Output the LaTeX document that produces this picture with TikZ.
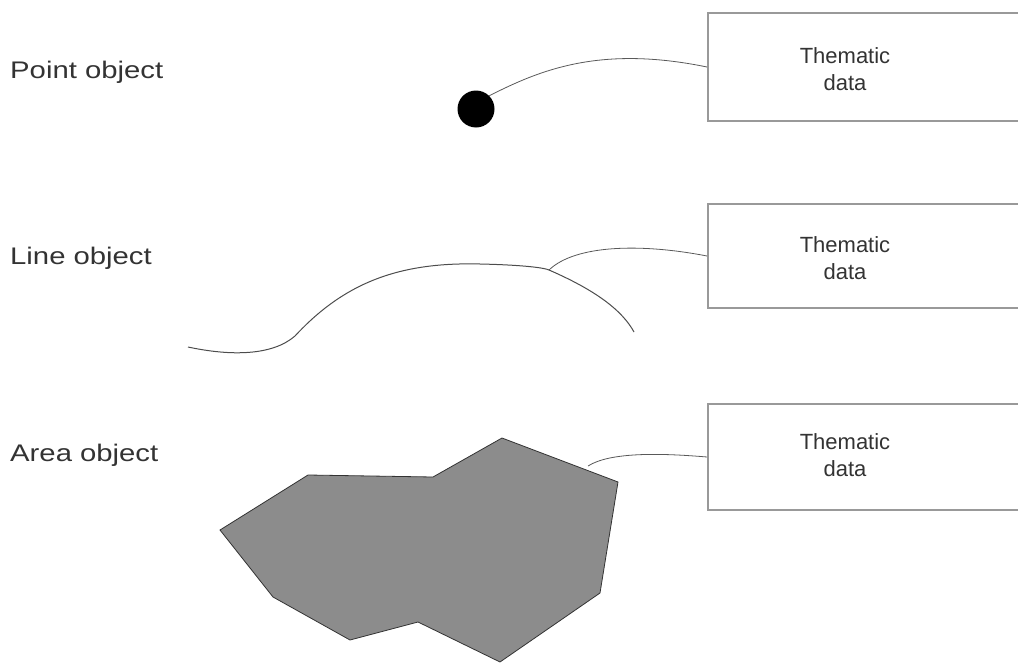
\documentclass[tikz,border=0pt]{standalone}
\usepackage{fontspec}
\setmainfont{Liberation Sans}
\newfontfamily\lblfont[FakeStretch=1.22]{Liberation Sans}
\begin{document}
\begin{tikzpicture}[x=1pt,y=-1pt,
  lbl/.style={anchor=west,inner sep=0pt,text=black!80,font=\lblfont\fontsize{24}{28}\selectfont},
  tbox/.style={draw=black!40,line width=1.5pt,anchor=west,minimum width=420pt,inner sep=0pt},
  ttext/.style={align=center,inner sep=0pt,text=black!80,font=\fontsize{22}{27}\selectfont},
  conn/.style={draw=black!65,line width=0.8pt},
  wire/.style={draw=black!70,line width=1pt}]
\useasboundingbox (0,0) rectangle (1018,664);
\clip (0,0) rectangle (1018,664);
% labels
\node[lbl] (lp) at (10,72) {Point object};
\node[lbl] (ll) at (10,258) {Line object};
\node[lbl] (la) at (10,455) {Area object};
% boxes
\node[tbox,minimum height=108pt] (b1) at (707,67) {};
\node[tbox,minimum height=104pt] (b2) at (707,256) {};
\node[tbox,minimum height=106pt] (b3) at (707,457) {};
\node[ttext] (t1) at (845,69) {Thematic\\data};
\node[ttext] (t2) at (845,258) {Thematic\\data};
\node[ttext] (t3) at (845,455) {Thematic\\data};
% point object
\node[circle,fill=black,minimum size=37pt,inner sep=0pt] (pt) at (476,109) {};
\draw[conn] (pt.45) .. controls (540,70) and (600,45) .. (b1.west);
% line object
\coordinate (ls) at (188,347);
\coordinate (lj) at (549,270);
\coordinate (le) at (634,332);
\draw[wire] (ls) .. controls (230,356) and (272,356) .. (295,336)
  .. controls (345,282) and (400,262) .. (480,264)
  .. controls (525,265) and (545,268) .. (lj)
  .. controls (595,290) and (622,310) .. (le);
\draw[conn] (lj) .. controls (575,245) and (640,243) .. (b2.west);
% area object
\draw[fill=black!45,draw=black!80,line width=0.8pt]
  (220,530) -- (308,475) -- (433,477) -- (502,438) -- (618,482) -- (600,593)
  -- (500,662) -- (418,622) -- (350,640) -- (273,597) -- cycle;
\coordinate (pa) at (588,466);
\draw[conn] (pa) .. controls (610,452) and (660,453) .. (b3.west);
\end{tikzpicture}
\end{document}
